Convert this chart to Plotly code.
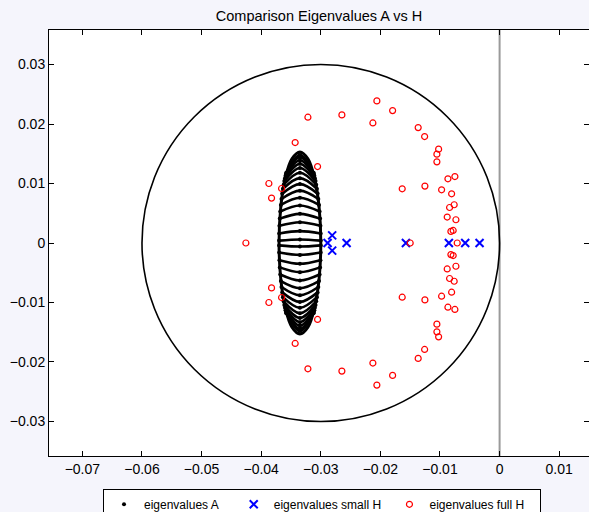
import plotly.graph_objects as go

# ---------------- data ----------------
# eigenvalues A: dense cluster forming arched bands (upper half; conjugate half mirrored)
a_center_x = -0.0335
a_band_mid_y = [0.0006, 0.0020, 0.0035, 0.0049, 0.0063, 0.0076, 0.0088, 0.0099,
                0.0109, 0.0118, 0.0126, 0.0133, 0.0139, 0.0144, 0.0148]
a_band_end_y = [0.0004, 0.0016, 0.0029, 0.0041, 0.0053, 0.0064, 0.0074, 0.0083,
                0.0091, 0.0098, 0.0104, 0.0109, 0.0113, 0.0116, 0.0118]
a_band_half_w = [0.00350, 0.00348, 0.00344, 0.00338, 0.00330, 0.00320, 0.00309, 0.00297,
                 0.00285, 0.00273, 0.00262, 0.00251, 0.00242, 0.00235, 0.00230]
# outline of the A cluster
a_outline_x = [-0.0300, -0.03027, -0.03103, -0.03216, -0.0335, -0.03484, -0.03598, -0.03673,
               -0.0370, -0.03673, -0.03598, -0.03484, -0.0335, -0.03216, -0.03103, -0.03027, -0.0300]
a_outline_y = [0.0, 0.00586, 0.01082, 0.01414, 0.0153, 0.01414, 0.01082, 0.00586,
               0.0, -0.00586, -0.01082, -0.01414, -0.0153, -0.01414, -0.01082, -0.00586, 0.0]

# eigenvalues small H
small_h_x = [-0.02886, -0.02809, -0.02809, -0.02567, -0.01572, -0.00851, -0.00577, -0.00336]
small_h_y = [0.0, 0.00128, -0.00128, 0.0, 0.0, 0.0, 0.0, 0.0]

# eigenvalues full H (upper half, real ones listed separately)
full_h_x_up = [-0.03826, -0.03871, -0.03658, -0.03430, -0.03054, -0.03216, -0.02646, -0.02059,
               -0.02126, -0.01795, -0.01366, -0.01258, -0.01023, -0.01052, -0.01052, -0.00750,
               -0.00867, -0.01634, -0.01253, -0.00973, -0.00805, -0.00762, -0.00839, -0.00879,
               -0.00733, -0.00779, -0.00817]
full_h_y_up = [0.00755, 0.01000, 0.00916, 0.01688, 0.01285, 0.02114, 0.02153, 0.02388,
               0.02018, 0.02225, 0.01940, 0.01789, 0.01577, 0.01493, 0.01364, 0.01117,
               0.01079, 0.00911, 0.00956, 0.00894, 0.00827, 0.00643, 0.00597, 0.00436,
               0.00391, 0.00211, 0.00195]
full_h_x_real = [-0.04257, -0.01500, -0.00711]

circle_center = (-0.03, 0.0)
circle_radius = 0.03

x_ticks = [-0.07, -0.06, -0.05, -0.04, -0.03, -0.02, -0.01, 0, 0.01]
y_ticks = [-0.03, -0.02, -0.01, 0, 0.01, 0.02, 0.03]
x_range = [-0.0756, 0.0150]
y_range = [-0.0358, 0.0358]

NB = "\u00a0"
name_a = "eigenvalues A" + NB * 3
name_small = "eigenvalues small H" + NB
name_full = "eigenvalues full H" + NB * 3

# ---------------- figure ----------------
FONT = "Liberation Sans, Arial, Helvetica, sans-serif"
fig = go.Figure()

# legend / point trace for A (band end and middle points)
pts_x, pts_y = [], []
for s in (1, -1):
    for ym, ye, hw in zip(a_band_mid_y, a_band_end_y, a_band_half_w):
        pts_x += [a_center_x - hw, a_center_x, a_center_x + hw]
        pts_y += [s * ye, s * ym, s * ye]
fig.add_trace(go.Scatter(x=pts_x, y=pts_y, mode="markers", name=name_a,
                         marker=dict(color="black", size=4, symbol="circle")))

for s in (1, -1):
    for ym, ye, hw in zip(a_band_mid_y, a_band_end_y, a_band_half_w):
        fig.add_trace(go.Scatter(
            x=[a_center_x - hw, a_center_x, a_center_x + hw],
            y=[s * ye, s * ym, s * ye],
            mode="lines", line=dict(color="black", width=2.6, shape="spline"),
            showlegend=False, hoverinfo="skip"))
fig.add_trace(go.Scatter(x=a_outline_x, y=a_outline_y, mode="lines",
                         line=dict(color="black", width=3, shape="spline"),
                         showlegend=False, hoverinfo="skip"))

fig.add_trace(go.Scatter(x=small_h_x, y=small_h_y, mode="markers", name=name_small,
                         marker=dict(symbol="x-thin", size=8, color="blue",
                                     line=dict(color="blue", width=2))))

full_x = full_h_x_up + full_h_x_up + full_h_x_real
full_y = full_h_y_up + [-v for v in full_h_y_up] + [0.0] * len(full_h_x_real)
fig.add_trace(go.Scatter(x=full_x, y=full_y, mode="markers", name=name_full,
                         marker=dict(symbol="circle-open", size=6, color="red",
                                     line=dict(color="red", width=1.2))))

cx, cy = circle_center
fig.add_shape(type="circle", xref="x", yref="y",
              x0=cx - circle_radius, x1=cx + circle_radius,
              y0=cy - circle_radius, y1=cy + circle_radius,
              line=dict(color="black", width=1.6), layer="below")
fig.add_shape(type="line", xref="x", yref="paper", x0=0, x1=0, y0=0, y1=1,
              line=dict(color="#9a9a9a", width=2), layer="below")

axis_common = dict(showgrid=False, zeroline=False, showline=True, linecolor="black",
                   linewidth=1, mirror="ticks", ticks="inside", ticklen=5,
                   tickcolor="black", tickfont=dict(family=FONT, size=14, color="black"))
fig.update_xaxes(range=x_range, tickvals=x_ticks, **axis_common)
fig.update_yaxes(range=y_range, tickvals=y_ticks, **axis_common)

fig.update_layout(
    width=589, height=512,
    margin=dict(l=49, r=0, t=30, b=56, autoexpand=False),
    paper_bgcolor="#f5f5fc", plot_bgcolor="white",
    font=dict(family=FONT, color="black"),
    title=dict(text="Comparison Eigenvalues A vs H", x=0.5, xref="paper",
               y=1 - 15.8 / 512, yanchor="middle", xanchor="center",
               font=dict(family=FONT, size=14.5, color="black")),
    legend=dict(orientation="h", x=0.1, xanchor="left", y=-0.077, yanchor="top",
                bgcolor="white", bordercolor="black", borderwidth=1,
                font=dict(family=FONT, size=12, color="black")),
    showlegend=True,
)

fig.write_html("out.html", config={"displayModeBar": False},
               post_script="document.body.style.margin='0';document.body.style.overflow='hidden';")
